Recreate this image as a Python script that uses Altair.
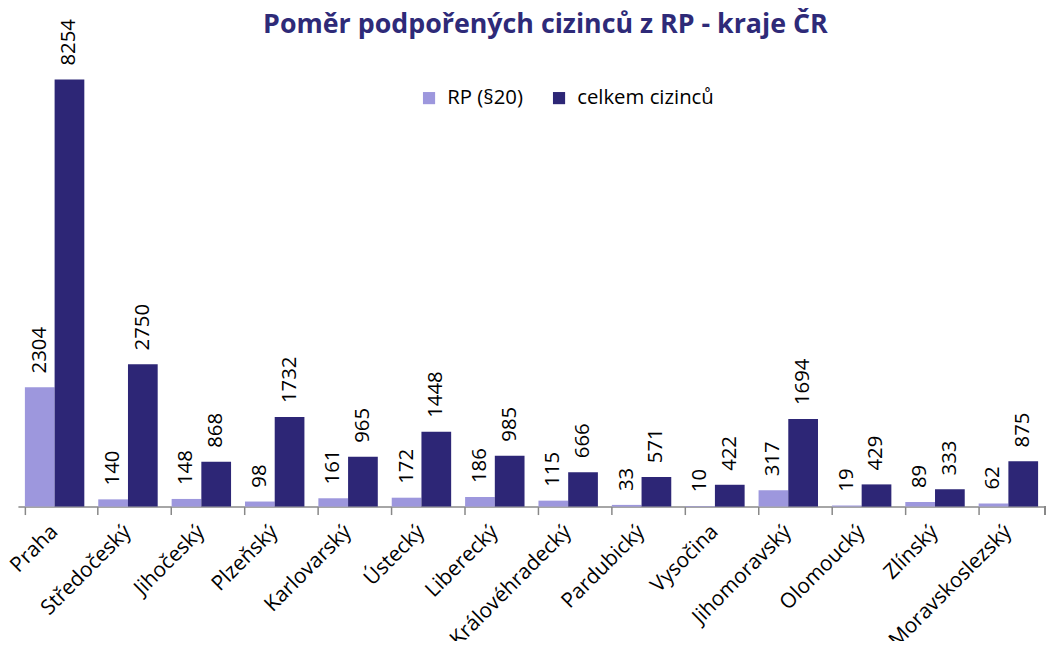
import altair as alt
import pandas as pd

regions = ["Praha", "Středočeský", "Jihočeský", "Plzeňský", "Karlovarský", "Ústecký",
           "Liberecký", "Královéhradecký", "Pardubický", "Vysočina", "Jihomoravský",
           "Olomoucký", "Zlínský", "Moravskoslezský"]
rp_values = [2304, 140, 148, 98, 161, 172, 186, 115, 33, 10, 317, 19, 89, 62]
total_values = [8254, 2750, 868, 1732, 965, 1448, 985, 666, 571, 422, 1694, 429, 333, 875]
series_names = ["RP (§20)", "celkem cizinců"]
series_colors = ["#9D97DD", "#2D2676"]

rows = []
for r, a, b in zip(regions, rp_values, total_values):
    rows.append({"kraj": r, "serie": series_names[0], "hodnota": a})
    rows.append({"kraj": r, "serie": series_names[1], "hodnota": b})
df = pd.DataFrame(rows)

W, H = 1035, 500
FONT = "Open Sans"

x_enc = alt.X("kraj:N", sort=regions, title=None,
              scale=alt.Scale(paddingInner=0.19, paddingOuter=0.095),
              axis=alt.Axis(labelAngle=-45, labelAlign="right", labelBaseline="middle",
                            labelFont=FONT, labelFontSize=21, labelColor="#000000",
                            labelPadding=14, tickSize=8, tickColor="#888888",
                            tickWidth=1.5, domainColor="#888888", domainWidth=1.5,
                            bandPosition=0, labelOverlap=False, labelBound=False))
y_enc = alt.Y("hodnota:Q", axis=None, scale=alt.Scale(domain=[0, 9587], nice=False, zero=True))
xo = alt.XOffset("serie:N", sort=series_names)

base = alt.Chart(df)

bars = base.mark_bar().encode(
    x=x_enc, y=y_enc, xOffset=xo,
    color=alt.Color("serie:N", sort=series_names,
                    scale=alt.Scale(domain=series_names, range=series_colors),
                    legend=alt.Legend(title=None, orient="none", direction="horizontal",
                                      legendX=404, legendY=78, symbolType="square",
                                      symbolSize=150, symbolStrokeWidth=0,
                                      labelFont=FONT, labelFontSize=20.5, labelColor="#000000",
                                      labelOffset=8, columnPadding=26)),
)

labels = base.mark_text(angle=270, align="left", baseline="middle", dx=14,
                        font=FONT, fontSize=20.5, color="#000000").encode(
    x=alt.X("kraj:N", sort=regions), y="hodnota:Q", xOffset=xo,
    text=alt.Text("hodnota:Q", format="d"),
)

end_tick = alt.Chart(df).mark_rule(color="#888888", strokeWidth=1.5).encode(
    x=alt.value(W), y=alt.value(H), y2=alt.value(H + 8)
)

chart = alt.layer(bars, labels, end_tick).properties(
    width=W, height=H,
    title=alt.TitleParams("Poměr podpořených cizinců z RP - kraje ČR", font=FONT,
                          fontSize=27, fontWeight="bold", color="#2E2A78",
                          baseline="alphabetic", offset=-27, dy=23, dx=14, anchor="middle"),
    autosize=alt.AutoSizeParams(type="none"),
    padding={"left": 10, "top": 0, "right": 9, "bottom": 133},
).configure_view(stroke=None)

chart.save("out.html", embed_options={"renderer": "svg", "actions": False})
